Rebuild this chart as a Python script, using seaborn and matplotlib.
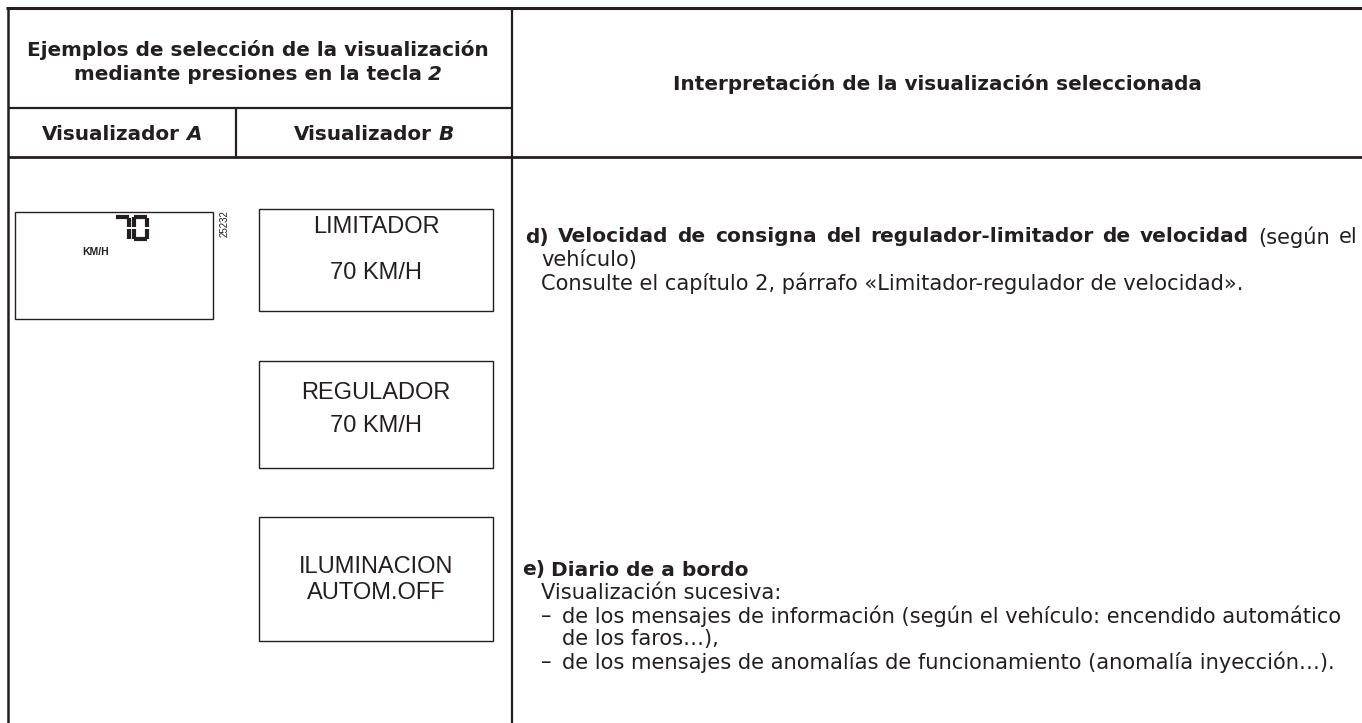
import matplotlib
matplotlib.use("Agg")
import matplotlib.pyplot as plt
import seaborn as sns

# ---- table texts ----
header_left = ["Ejemplos de selección de la visualización", "mediante presiones en la tecla"]
header_key = "2"
header_right = "Interpretación de la visualización seleccionada"
col_name = "Visualizador"
col_letters = ["A", "B"]

display_a_value = "70"
display_a_unit = "KM/H"
display_a_ref = "25232"
display_b_lines = [["LIMITADOR", "70 KM/H"],
                   ["REGULADOR", "70 KM/H"],
                   ["ILUMINACION", "AUTOM.OFF"]]

item_d_label = "d)"
item_d_title = "Velocidad de consigna del regulador-limitador de velocidad"
item_d_tail = "(según el"
item_d_body = ["vehículo)",
               "Consulte el capítulo 2, párrafo «Limitador-regulador de velocidad»."]
item_e_label = "e)"
item_e_title = "Diario de a bordo"
item_e_body = "Visualización sucesiva:"
item_e_bullets = [["de los mensajes de información (según el vehículo: encendido automático",
                   "de los faros…),"],
                  ["de los mensajes de anomalías de funcionamiento (anomalía inyección…)."]]

# seven segment layout of the LCD digits
segments = {"7": "abc", "0": "abcdef"}

TXT = "#231f20"
FS_HEAD = 14.4
FS_BOLD = 14.5
FS_BODY = 15.1
FS_BOX = 17
BOX_FONT = ["Liberation Sans", "DejaVu Sans"]

sns.set_theme(style="white")
plt.rcParams["font.family"] = ["DejaVu Sans"]

fig = plt.figure(figsize=(13.62, 7.23), dpi=100)
ax = fig.add_axes([0, 0, 1, 1])
ax.set_xlim(0, 1362)
ax.set_ylim(723, 0)
ax.axis("off")
renderer = fig.canvas.get_renderer()


def space_px(size):
    return size * 0.318 * 100 / 72


def measure(s, y, size, weight="normal", style="normal"):
    t = ax.text(0, y, s, fontsize=size, fontweight=weight, fontstyle=style,
                va="center", ha="left", color=TXT)
    return t, t.get_window_extent(renderer).width


def runs(x, y, parts, ha="left"):
    # parts: (text, size, weight, style); a space is put between them
    arts, widths = zip(*[measure(s, y, size, w, st) for s, size, w, st in parts])
    gaps = [space_px(p[1]) for p in parts[:-1]]
    total = sum(widths) + sum(gaps)
    start = x - total / 2 if ha == "center" else x
    for k, (t, wd) in enumerate(zip(arts, widths)):
        t.set_x(start)
        start += wd + (gaps[k] if k < len(gaps) else 0)


def justify(x0, x1, y, words):
    # words: (text, size, weight); spread over x0..x1 like justified print
    arts, widths = zip(*[measure(s, y, size, w) for s, size, w in words])
    gap = (x1 - x0 - sum(widths)) / (len(words) - 1)
    start = x0
    for t, wd in zip(arts, widths):
        t.set_x(start)
        start += wd + gap


def line(x0, x1, y0, y1, lw):
    ax.plot([x0, x1], [y0, y1], color=TXT, lw=lw, solid_capstyle="butt")


# ---- table frame ----
line(6, 1362, 8, 8, 2.2)
line(8, 8, 7, 723, 1.8)
line(512, 512, 7, 723, 1.6)
line(8, 512, 108, 108, 1.6)
line(8, 1362, 157, 157, 2.0)
line(236, 236, 108, 157, 1.6)

# ---- headers ----
runs(258, 50, [(header_left[0], FS_HEAD, "bold", "normal")], ha="center")
runs(258, 74, [(header_left[1], FS_HEAD, "bold", "normal"),
               (header_key, FS_HEAD, "bold", "italic")], ha="center")
runs(122, 134, [(col_name, FS_HEAD, "bold", "normal"),
                (col_letters[0], FS_HEAD, "bold", "italic")], ha="center")
runs(374, 134, [(col_name, FS_HEAD, "bold", "normal"),
                (col_letters[1], FS_HEAD, "bold", "italic")], ha="center")
runs(937, 84, [(header_right, FS_HEAD, "bold", "normal")], ha="center")

# ---- display A ----
ax.add_patch(plt.Rectangle((15, 212), 198, 107, fill=False, ec=TXT, lw=1.0))
seg_w, seg_h, seg_lw = 13, 22, 3.0
for i, ch in enumerate(display_a_value):
    x0 = 116 + i * 18
    y0 = 217
    pts = {"a": ([x0, x0 + seg_w], [y0, y0]),
           "b": ([x0 + seg_w, x0 + seg_w], [y0 + 1, y0 + seg_h / 2 - 1]),
           "c": ([x0 + seg_w, x0 + seg_w], [y0 + seg_h / 2 + 1, y0 + seg_h]),
           "d": ([x0, x0 + seg_w], [y0 + seg_h, y0 + seg_h]),
           "e": ([x0, x0], [y0 + seg_h / 2 + 1, y0 + seg_h]),
           "f": ([x0, x0], [y0, y0 + seg_h / 2 - 1])}
    for s in segments[ch]:
        xs, ys = pts[s]
        ax.plot(xs, ys, color=TXT, lw=seg_lw, solid_capstyle="butt")
ax.text(96, 252, display_a_unit, fontsize=7.5, fontweight="bold", ha="center",
        va="center", color=TXT, family=BOX_FONT)
ax.text(225, 224, display_a_ref, fontsize=7, rotation=90, ha="center",
        va="center", color=TXT, family=BOX_FONT)

# ---- display B boxes ----
box_y = [(209, 311), (361, 468), (517, 641)]
text_y = [(227, 273), (393, 426), (567, 593)]
for (y0, y1), (t0, t1), lines in zip(box_y, text_y, display_b_lines):
    ax.add_patch(plt.Rectangle((259, y0), 234, y1 - y0, fill=False, ec=TXT, lw=1.0))
    for ty, s in zip((t0, t1), lines):
        ax.text(376, ty, s, fontsize=FS_BOX, ha="center", va="center", color=TXT,
                family=BOX_FONT)

# ---- interpretation column ----
d_words = ([(item_d_label, FS_BOLD, "bold")]
           + [(w, FS_BOLD, "bold") for w in item_d_title.split()]
           + [(w, FS_BODY, "normal") for w in item_d_tail.split()])
justify(525, 1358, 237, d_words)
for k, s in enumerate(item_d_body):
    ax.text(541, 260 + 23 * k, s, fontsize=FS_BODY, ha="left", va="center", color=TXT)

runs(522, 570, [(item_e_label, FS_BOLD, "bold", "normal"),
                (item_e_title, FS_BOLD, "bold", "normal")])
ax.text(541, 593, item_e_body, fontsize=FS_BODY, ha="left", va="center", color=TXT)
yy = 616
for bullet in item_e_bullets:
    ax.text(541, yy, "–", fontsize=FS_BODY, ha="left", va="center", color=TXT)
    for s in bullet:
        ax.text(562, yy, s, fontsize=FS_BODY, ha="left", va="center", color=TXT)
        yy += 23

fig.savefig("out.png", dpi=100, facecolor="white")
